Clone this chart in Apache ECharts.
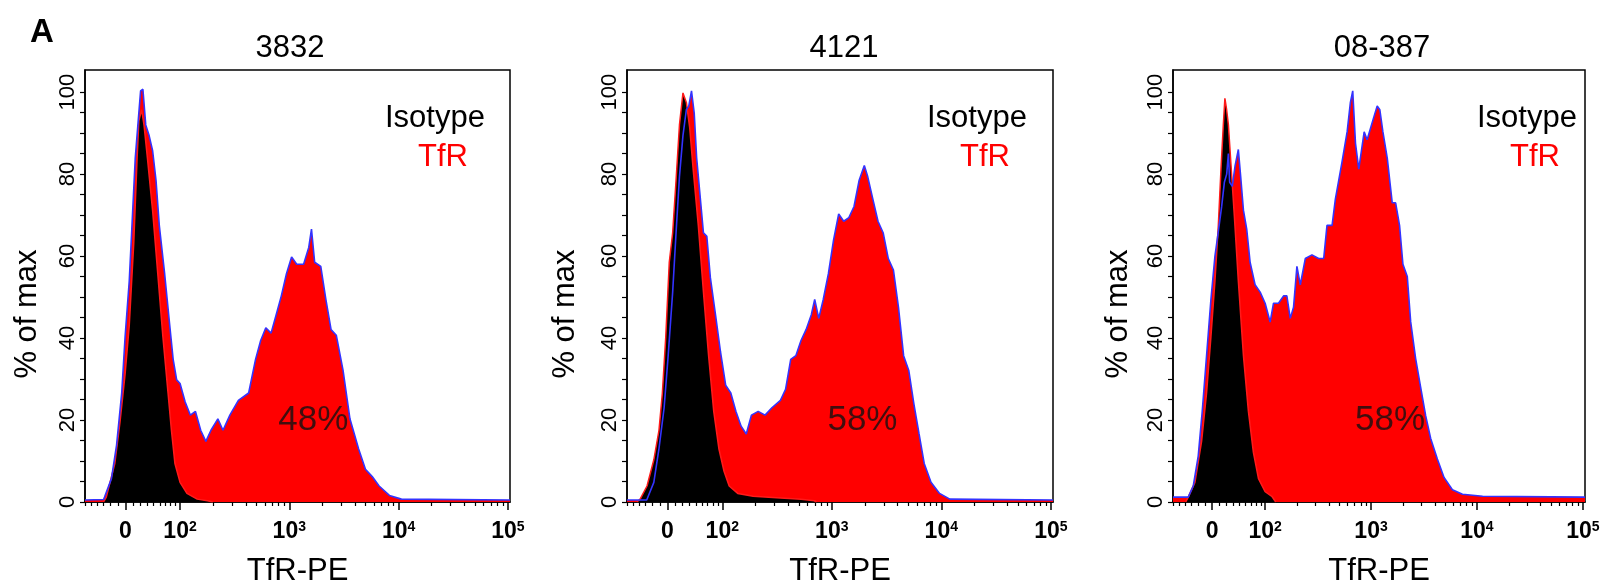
<!DOCTYPE html>
<html><head><meta charset="utf-8">
<script src="https://cdn.jsdelivr.net/npm/echarts@6/dist/echarts.min.js"></script>
<style>html,body{margin:0;padding:0;background:#fff}#c{width:1620px;height:586px}</style>
</head><body><div id="c"></div>
<script>
// ---------------- DATA ----------------
const panelTitles = ['3832', '4121', '08-387'];
const seriesNames = ['Isotype', 'TfR'];
const percentLabels = ['48%', '58%', '58%'];
// annotation anchor in data units [axis position, % of max]
const percentPos = [[3.22, 20], [3.28, 20], [3.18, 20]];
// x axis: biexponential display position (10^n sits at n; 0 sits at 1.5)
const xTickPos = [1.5, 2, 3, 4, 5];
const xTickLabels = ['0', '10^2', '10^3', '10^4', '10^5'];
const yTickLabels = [0, 20, 40, 60, 80, 100];
const xAxisName = 'TfR-PE';
const yAxisName = '% of max';

// histograms: [display position, % of max]
const p1TfR = [[1.13,0.5],[1.30,0.6],[1.309,1.2],[1.372,5.7],[1.419,13.9],[1.466,26.6],[1.497,40.3],[1.535,53.9],[1.56,67.5],[1.59,83.9],[1.617,93],[1.639,100.3],[1.66,100.7],[1.686,92],[1.717,89.4],[1.749,85.7],[1.78,78.5],[1.81,67.5],[1.859,55.7],[1.906,43],[1.937,34.8],[1.969,29.8],[2.0,28.9],[2.047,24.4],[2.094,21.2],[2.141,22.1],[2.189,17.5],[2.236,14.8],[2.283,17.5],[2.346,20.3],[2.393,17.5],[2.456,21.2],[2.534,24.8],[2.628,26.6],[2.691,34.8],[2.738,39.4],[2.785,42.5],[2.833,41.2],[2.88,45.7],[2.927,50.3],[2.974,55.7],[3.021,59.8],[3.068,58],[3.131,58],[3.178,62.1],[3.203,66.6],[3.232,58.5],[3.288,57.5],[3.335,49.4],[3.382,42.1],[3.43,40.7],[3.492,32.1],[3.555,20.3],[3.634,13],[3.697,8],[3.759,6.2],[3.822,3.9],[3.916,1.6],[4.026,0.7],[5.02,0.5]];
const p1Iso = [[1.30,0],[1.325,1.2],[1.403,9.4],[1.45,19.4],[1.497,31.2],[1.535,43],[1.576,63],[1.607,84],[1.623,93],[1.648,95.7],[1.67,92],[1.701,84],[1.749,71],[1.796,55.7],[1.843,40.3],[1.89,26.6],[1.921,17.5],[1.953,9.4],[2.0,4.8],[2.063,2.1],[2.157,0.7],[2.25,0.3],[2.3,0]];
const p2TfR = [[1.13,0.5],[1.31,0.5],[1.328,0.7],[1.375,4.8],[1.422,13],[1.469,23],[1.506,35.7],[1.547,51.2],[1.578,65.7],[1.609,79.4],[1.641,89.4],[1.672,95.7],[1.694,96.6],[1.719,100.3],[1.744,94.8],[1.766,84],[1.797,74.8],[1.828,65.7],[1.859,64.8],[1.891,54.8],[1.938,45.7],[1.984,36.6],[2.031,28.5],[2.078,26.6],[2.125,22.1],[2.172,18.5],[2.219,16.6],[2.266,21.2],[2.328,22.1],[2.391,21.2],[2.453,23],[2.531,24.8],[2.578,27.5],[2.625,34.8],[2.672,35.7],[2.719,39.4],[2.766,42.1],[2.813,45.7],[2.844,49.4],[2.881,44.8],[2.922,49.4],[2.969,55.7],[3.016,63.9],[3.063,70.3],[3.109,68.5],[3.156,69.4],[3.203,72.1],[3.25,78.5],[3.297,82.1],[3.328,79.4],[3.375,73.9],[3.422,68.5],[3.469,65.7],[3.516,59.4],[3.563,56.6],[3.609,47.5],[3.656,35.7],[3.703,32.1],[3.75,23.9],[3.797,16.6],[3.844,9.4],[3.906,4.8],[3.984,2.1],[4.078,0.7],[5.02,0.5]];
const p2Iso = [[1.22,0],[1.25,0.7],[1.313,3.9],[1.375,10.3],[1.422,17.5],[1.453,26.6],[1.484,40.3],[1.516,58.5],[1.547,65.7],[1.578,78.5],[1.609,92],[1.641,99.8],[1.672,97.5],[1.703,91.2],[1.734,81.2],[1.781,67.5],[1.828,51.2],[1.875,35.7],[1.922,22.1],[1.969,13],[2.016,7.5],[2.063,3.9],[2.141,2.1],[2.281,1.4],[2.531,1],[2.719,0.7],[2.84,0.3],[2.86,0]];
const p3TfR = [[1.13,1.2],[1.274,1.2],[1.321,3.9],[1.368,11.2],[1.406,22.1],[1.447,35.7],[1.488,49.4],[1.526,60],[1.558,66],[1.589,72],[1.615,78],[1.637,80],[1.653,85],[1.665,78],[1.69,77],[1.716,82],[1.747,86],[1.769,79.4],[1.795,71.2],[1.826,66.6],[1.858,58.5],[1.905,53],[1.953,51.2],[2.0,48.5],[2.047,43.9],[2.079,48.5],[2.126,48.5],[2.174,50.3],[2.205,50.3],[2.237,44.8],[2.268,47.5],[2.3,57.5],[2.332,53],[2.379,59.4],[2.442,60.3],[2.505,59.4],[2.553,59.4],[2.584,67.5],[2.632,67.5],[2.663,73.9],[2.726,83],[2.774,90.3],[2.805,97.5],[2.827,100.3],[2.853,87.5],[2.884,81.2],[2.909,85.7],[2.935,90.3],[2.963,88.4],[2.995,91.2],[3.026,93.9],[3.058,96.6],[3.083,95.7],[3.112,90.3],[3.153,83.9],[3.2,73],[3.232,73],[3.269,67.5],[3.301,58],[3.342,55],[3.374,44],[3.421,35],[3.468,28],[3.516,21],[3.563,15.5],[3.626,10.5],[3.689,6],[3.768,3],[3.863,1.9],[4.053,1.4],[5.02,1.2]];
const p3Iso = [[1.25,0],[1.274,1.2],[1.337,4.8],[1.4,14.8],[1.447,26.6],[1.488,40.3],[1.526,53.9],[1.558,67.5],[1.583,81.2],[1.605,92],[1.62,98.5],[1.635,96],[1.653,92],[1.678,82.1],[1.71,69.4],[1.747,53.9],[1.795,35.7],[1.842,22.1],[1.889,12.1],[1.937,5.7],[2.0,2.5],[2.063,1.4],[2.1,0]];

const tfrData = [p1TfR, p2TfR, p3TfR];
const isoData = [p1Iso, p2Iso, p3Iso];

// ---------------- LAYOUT / STYLE ----------------
const FONT = 'Liberation Sans, Arial, Helvetica, sans-serif';
const grids = [
  {left: 85, top: 70, width: 425, height: 432},
  {left: 627, top: 70, width: 426, height: 432},
  {left: 1173, top: 70, width: 412, height: 432}
];
const titleX = [285, 839, 1377];
const yNameGap = [42, 46, 39];
const legendLeft = [380, 922, 1472];
const X_MIN = 1.13, X_MAX = 5.02, Y_MAX = 105.4;

// axis scale helpers (tick decoration positions)
function biex(v) { return 1.5 + Math.asinh(v / 63.3) / Math.LN10; }
const minorTicks = [];
[-60,-50,-40,-30,-20,-10,10,20,30,40,50,60,70,80].forEach(v => { const u = biex(v); if (u > X_MIN && u < 1.97) minorTicks.push(u); });
for (let d = 2; d <= 4; d++) for (let k = 2; k <= 9; k++) minorTicks.push(d + Math.log10(k));
const yMinorTicks = [];
for (let v = 0; v <= 100; v += 5) yMinorTicks.push(v);

function xLabel(v) {
  let best = 0;
  xTickPos.forEach((p, i) => { if (Math.abs(p - v) < Math.abs(xTickPos[best] - v)) best = i; });
  const lab = xTickLabels[best];
  if (lab.indexOf('^') < 0) return '{b|' + lab + '}';
  const parts = lab.split('^');
  return '{b|' + parts[0] + '}{s|' + parts[1] + '}';
}

const option = {
  backgroundColor: '#fff',
  animation: false,
  textStyle: {fontFamily: FONT},
  title: [{text: 'A', left: 25, top: 11, textStyle: {fontSize: 33, fontWeight: 'bold', color: '#000', fontFamily: FONT}}]
    .concat(panelTitles.map((t, i) => ({
      text: t, left: titleX[i], top: 28, textAlign: 'center',
      textStyle: {fontSize: 31, fontWeight: 'normal', color: '#000', fontFamily: FONT}
    }))),
  legend: panelTitles.map((t, i) => ({
    left: legendLeft[i], top: 102, orient: 'vertical', itemWidth: 0, itemHeight: 0, itemGap: 7,
    padding: 0, selectedMode: false, icon: 'rect',
    textStyle: {fontSize: 31, lineHeight: 32, fontFamily: FONT},
    data: [
      {name: seriesNames[0], textStyle: {color: '#000'}},
      {name: seriesNames[1], textStyle: {color: '#ff0000', padding: [0, 0, 0, 33]}}
    ]
  })),
  grid: grids.map(g => Object.assign({show: true, borderColor: '#000', borderWidth: 1.5, backgroundColor: '#fff', containLabel: false, outerBoundsMode: 'none'}, g)),
  xAxis: [],
  yAxis: [],
  series: []
};

panelTitles.forEach((t, i) => {
  option.xAxis.push({
    type: 'value', gridIndex: i, position: 'bottom', min: X_MIN, max: X_MAX,
    name: xAxisName, nameLocation: 'middle', nameGap: 54,
    nameTextStyle: {fontSize: 31, color: '#000', fontFamily: FONT},
    axisLine: {show: true, lineStyle: {color: '#000', width: 1.5}},
    axisTick: {show: true, customValues: xTickPos, length: 8, inside: false, lineStyle: {color: '#000', width: 1.5}},
    axisLabel: {
      show: true, customValues: xTickPos, margin: 18, formatter: xLabel,
      rich: {
        b: {fontSize: 23, fontWeight: 'bold', color: '#000', fontFamily: FONT},
        s: {fontSize: 14, fontWeight: 'bold', color: '#000', fontFamily: FONT, verticalAlign: 'top'}
      }
    },
    splitLine: {show: false}
  });
  option.xAxis.push({
    type: 'value', gridIndex: i, position: 'bottom', min: X_MIN, max: X_MAX,
    axisLine: {show: false},
    axisTick: {show: true, customValues: minorTicks, length: 4, lineStyle: {color: '#000', width: 1.2}},
    axisLabel: {show: false},
    splitLine: {show: false}
  });
  option.yAxis.push({
    type: 'value', gridIndex: i, min: 0, max: Y_MAX,
    name: yAxisName, nameLocation: 'middle', nameGap: yNameGap[i], nameRotate: 90,
    nameTextStyle: {fontSize: 31, color: '#000', fontFamily: FONT, padding: [0, 56, 0, 0]},
    axisLine: {show: true, lineStyle: {color: '#000', width: 1.5}},
    axisTick: {show: true, customValues: yMinorTicks, length: 5, lineStyle: {color: '#000', width: 1.2}},
    axisLabel: {show: true, customValues: yTickLabels, rotate: 90, margin: 6, fontSize: 22, color: '#000', fontFamily: FONT},
    splitLine: {show: false}
  });
  const xi = i * 2;
  option.series.push({
    name: seriesNames[1], type: 'line', xAxisIndex: xi, yAxisIndex: i, data: tfrData[i],
    showSymbol: false, symbol: 'none', z: 1, silent: true,
    lineStyle: {width: 0, color: '#ff0000'}, itemStyle: {color: '#ff0000'},
    areaStyle: {color: '#ff0000', opacity: 1}
  });
  option.series.push({
    name: seriesNames[0], type: 'line', xAxisIndex: xi, yAxisIndex: i, data: isoData[i],
    showSymbol: false, symbol: 'none', z: 2, silent: true,
    lineStyle: {width: 1.5, color: '#ff1a1a'}, itemStyle: {color: '#000'},
    areaStyle: {color: '#000', opacity: 1}
  });
  option.series.push({
    name: seriesNames[1], type: 'line', xAxisIndex: xi, yAxisIndex: i, data: tfrData[i],
    showSymbol: false, symbol: 'none', z: 3, silent: true,
    lineStyle: {width: 1.6, color: '#3333ff'}, itemStyle: {color: '#ff0000'}
  });
  option.series.push({
    type: 'scatter', xAxisIndex: xi, yAxisIndex: i, data: [percentPos[i]], symbolSize: 0, z: 5, silent: true,
    label: {show: true, position: 'inside', formatter: percentLabels[i], fontSize: 35, color: '#111', fontFamily: FONT}
  });
});

const chart = echarts.init(document.getElementById('c'), null, {renderer: 'canvas'});
chart.setOption(option);
</script>
</body></html>
